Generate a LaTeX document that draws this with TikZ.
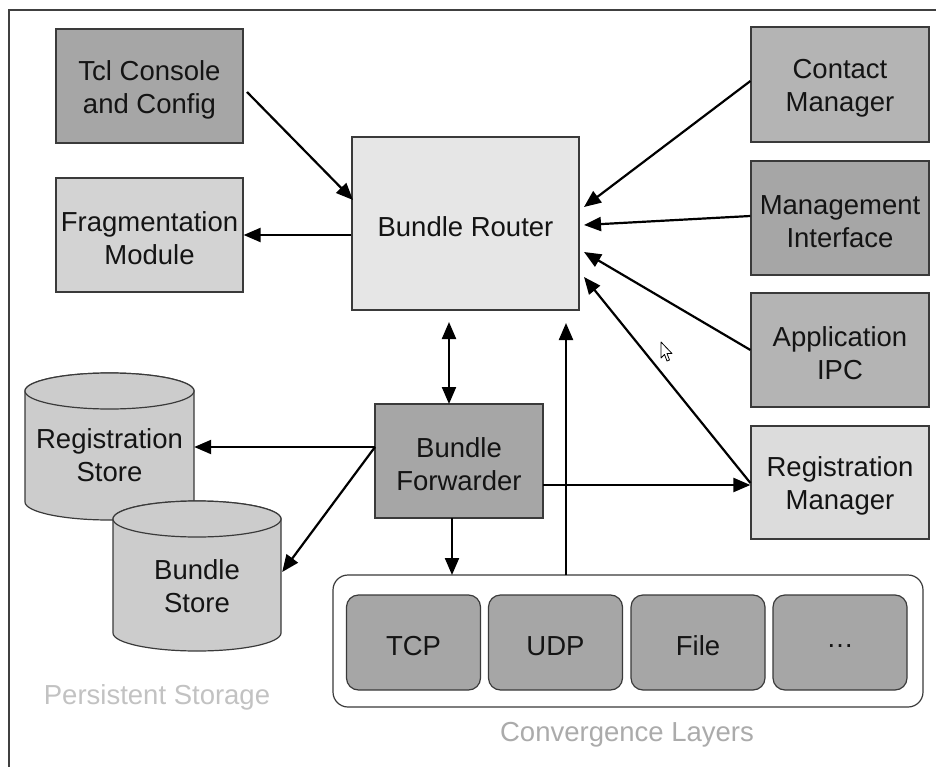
\documentclass[tikz,border=0pt]{standalone}
\usepackage{fontspec}
\setmainfont{Liberation Sans}
\usetikzlibrary{arrows.meta,calc}

\definecolor{fillA}{HTML}{A6A6A6}
\definecolor{fillB}{HTML}{B4B4B4}
\definecolor{fillC}{HTML}{D3D3D3}
\definecolor{fillD}{HTML}{E6E6E6}
\definecolor{fillE}{HTML}{DCDCDC}
\definecolor{fillCyl}{HTML}{CCCCCC}
\definecolor{edgecol}{HTML}{3A3A3A}
\definecolor{framecol}{HTML}{404040}
\definecolor{labelA}{HTML}{C2C2C2}
\definecolor{labelB}{HTML}{ABABAB}

\tikzset{
  x=1pt, y=1pt,
  txt/.style={font=\fontsize{27.5}{33}\selectfont, text=black!92, align=center},
  % box with its caption set slightly below the geometric centre
  comp/.style 2 args={draw=edgecol, line width=1.2pt, inner sep=0pt,
    minimum width=#1, label={[txt, yshift=-3.5pt]center:#2}},
  layer/.style={draw=edgecol, line width=1.2pt, fill=fillA,
    rounded corners=12pt, minimum width=134pt, minimum height=95pt, inner sep=0pt,
    label={[txt, yshift=-3.5pt]center:#1}},
  cyl/.style={fill=fillCyl, draw=edgecol, line width=1.2pt},
  tip/.tip={Triangle[length=17pt,width=14pt]},
  arr/.style={line width=2.2pt, -tip},
  darr/.style={line width=2.2pt, tip-tip},
  grouplabel/.style={font=\fontsize{27.5}{33}\selectfont, text=#1},
}

\begin{document}
\begin{tikzpicture}
\useasboundingbox (0,0) rectangle (936,-767);
\fill[white] (0,0) rectangle (936,-767);

% outer frame (left and top edges)
\draw[line width=2pt, framecol] (9,-767) -- (9,-10) -- (936,-10);

% left column
\node[comp={187pt}{Tcl Console\\and Config}, fill=fillA, minimum height=114pt] (tcl) at (149.5,-86) {};
\node[comp={187pt}{Fragmentation\\Module}, fill=fillC, minimum height=114pt] (frag) at (149.5,-235) {};

% core
\node[comp={227pt}{Bundle Router}, fill=fillD, minimum height=173pt] (router) at (465.5,-223.5) {};
\node[comp={168pt}{Bundle\\Forwarder}, fill=fillA, minimum height=114pt] (fwd) at (459,-461) {};

% right column
\node[comp={178pt}{Contact\\Manager}, fill=fillB, minimum height=115pt] (contact) at (840,-84.5) {};
\node[comp={178pt}{Management\\Interface}, fill=fillA, minimum height=114pt] (mgmt) at (840,-218) {};
\node[comp={178pt}{Application\\IPC}, fill=fillB, minimum height=114pt] (appipc) at (840,-350) {};
\node[comp={178pt}{Registration\\Manager}, fill=fillE, minimum height=113pt] (regmgr) at (840,-482.5) {};

% persistent storage cylinders
\path[cyl] (25,-391) -- (25,-502)
  arc[start angle=180, end angle=360, x radius=84.5, y radius=18]
  -- (194,-391)
  arc[start angle=0, end angle=180, x radius=84.5, y radius=18] -- cycle;
\draw[cyl] (109.5,-391) ellipse[x radius=84.5, y radius=18];
\node[txt, minimum width=169pt, inner sep=0pt] (regstore) at (109.5,-455) {Registration\\Store};

\path[cyl] (113,-519) -- (113,-633)
  arc[start angle=180, end angle=360, x radius=84, y radius=18]
  -- (281,-519)
  arc[start angle=0, end angle=180, x radius=84, y radius=18] -- cycle;
\draw[cyl] (197,-519) ellipse[x radius=84, y radius=18];
\node[txt, minimum width=168pt, inner sep=0pt] (bundlestore) at (197,-586) {Bundle\\Store};

\node[grouplabel=labelA] (pslabel) at (157,-697) {Persistent Storage};

% convergence layers
\node[draw=edgecol, line width=1.2pt, rounded corners=15pt, fill=white,
  minimum width=590pt, minimum height=132pt, inner sep=0pt] (cl) at (628,-641) {};
\node[layer=TCP] (tcp) at (413.5,-642.5) {};
\node[layer=UDP] (udp) at (555.5,-642.5) {};
\node[layer=File] (file) at (698,-642.5) {};
\node[layer=\dots] (more) at (840,-642.5) {};
\node[grouplabel=labelB] (cllabel) at (627,-735) {Convergence Layers};

% connector end points
\coordinate (tclout) at (247,-92);
\coordinate (rin1) at (353,-200);
\coordinate (rin2) at (584,-207);
\coordinate (rin3) at (584,-225);
\coordinate (rin4) at (584,-252);
\coordinate (rin5) at (584,-277);
\coordinate (rbot) at (449,-322);
\coordinate (ftop) at (449,-404);
\coordinate (rcl) at (566,-323);
\coordinate (clup) at (566,-575);
\coordinate (fbot) at (452,-518);
\coordinate (cltop) at (452,-575);
\coordinate (fleft) at (375,-447);
\coordinate (fright) at (543,-485);

% connectors
\draw[arr] (tclout) -- (rin1);
\draw[arr] (router.west |- frag.east) -- (frag.east);
\draw[arr] (contact.west |- 0,-81) -- (rin2);
\draw[arr] (mgmt.west |- 0,-216) -- (rin3);
\draw[arr] (appipc.west) -- (rin4);
\draw[arr] (regmgr.west |- 0,-483) -- (rin5);
\draw[darr] (rbot) -- (ftop);
\draw[arr] (clup) -- (rcl);
\draw[arr] (fbot) -- (cltop);
\draw[arr] (fleft) -- (regstore.east |- fleft);
\draw[arr] (fleft) -- ($(bundlestore.east)+(1,14)$);
\draw[arr] (fright) -- (regmgr.west |- fright);

% mouse pointer
\draw[line width=0.8pt, fill=white, line join=round]
  (661,-342) -- (661,-358) -- (664.5,-354.5) -- (667,-361) -- (669.5,-360)
  -- (667,-353.5) -- (672,-353.5) -- cycle;
\end{tikzpicture}
\end{document}
